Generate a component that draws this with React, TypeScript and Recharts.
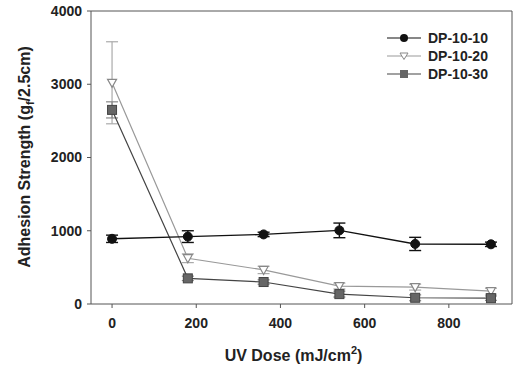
import React from 'react';
import { LineChart, Line, XAxis, YAxis, ErrorBar, ReferenceLine } from 'recharts';

// UV dose (mJ/cm2)
const doses = [0, 180, 360, 540, 720, 900];

const dp1010 = [890, 920, 950, 1005, 820, 815];
const dp1010Err = [50, 80, 30, 100, 90, 30];
const dp1020 = [3020, 625, 465, 245, 230, 175];
const dp1020Err = [560, 60, 50, 40, 40, 40];
const dp1030 = [2650, 350, 300, 135, 85, 80];
const dp1030Err = [110, 30, 30, 40, 40, 30];

const xTicks = [0, 200, 400, 600, 800];
const yTicks = [0, 1000, 2000, 3000, 4000];

const data = doses.map((d, i) => ({
  dose: d,
  a: dp1010[i], aErr: dp1010Err[i],
  b: dp1020[i], bErr: dp1020Err[i],
  c: dp1030[i], cErr: dp1030Err[i],
}));

const FONT = 'Liberation Sans, Arial, sans-serif';

const Circle = (p: any) => <circle key={p.index} cx={p.cx} cy={p.cy} r={4.5} fill="#111" stroke="#111" />;
const Tri = (p: any) => (
  <path key={p.index}
    d={`M${p.cx - 4.5},${p.cy - 3.5} L${p.cx + 4.5},${p.cy - 3.5} L${p.cx},${p.cy + 4.5} Z`}
    fill="#fff" stroke="#888" strokeWidth={1.2} />
);
const Sq = (p: any) => <rect key={p.index} x={p.cx - 4.5} y={p.cy - 4.5} width={9} height={9} fill="#666" stroke="#444" />;

const legendRows = [
  { name: 'DP-10-10', color: '#111', mark: 'c' },
  { name: 'DP-10-20', color: '#999', mark: 't' },
  { name: 'DP-10-30', color: '#444', mark: 's' },
];

const LegendBox = () => (
  <svg width={130} height={60} style={{ position: 'absolute', left: 385, top: 28 }}>
    {legendRows.map((r, i) => {
      const y = 10 + i * 18;
      return (
        <g key={r.name}>
          <line x1={2} x2={36} y1={y} y2={y} stroke={r.color} strokeWidth={1.2} />
          {r.mark === 'c' && <circle cx={19} cy={y} r={4} fill="#111" />}
          {r.mark === 't' && <path d={`M${15},${y - 3} L${23},${y - 3} L${19},${y + 3.5} Z`} fill="#fff" stroke="#888" />}
          {r.mark === 's' && <rect x={15} y={y - 4} width={8} height={8} fill="#666" />}
          <text x={43} y={y + 5} fontFamily={FONT} fontWeight="bold" fontSize={14} fill="#222">{r.name}</text>
        </g>
      );
    })}
  </svg>
);

export default function App() {
  return (
    <div style={{ position: 'absolute', left: 0, top: 0, width: 514, height: 372, background: '#fff' }}>
      <LineChart width={514} height={372} data={data}
        margin={{ top: 11, right: 2, bottom: 0, left: 0 }}>
        <XAxis dataKey="dose" type="number" domain={[-50, 950]} ticks={xTicks}
          stroke="#555" tickSize={4} tickLine={{ stroke: '#555' }}
          tick={{ fill: '#222', fontFamily: FONT, fontWeight: 'bold', fontSize: 14, dy: 8 }}
          height={68}
          label={(props: any) => {
            const vb = props.viewBox;
            return (
              <text x={vb.x + vb.width / 2 - 8} y={361} textAnchor="middle" fontFamily={FONT}
                fontWeight="bold" fontSize={16} fill="#222">
                UV Dose (mJ/cm<tspan dy={-7} fontSize={11}>2</tspan><tspan dy={7}>)</tspan>
              </text>
            );
          }} />
        <YAxis type="number" domain={[0, 4000]} ticks={yTicks} width={91}
          stroke="#555" tickSize={4}
          tick={{ fill: '#222', fontFamily: FONT, fontWeight: 'bold', fontSize: 14, dx: -3 }}
          label={() => (
            <text x={30} y={157} transform="rotate(-90 30 157)" textAnchor="middle" fontFamily={FONT}
              fontWeight="bold" fontSize={16} fill="#222">
              Adhesion Strength (g<tspan dy={4} fontSize={11}>f</tspan><tspan dy={-4}>/2.5cm)</tspan>
            </text>
          )} />
        <ReferenceLine y={4000} stroke="#555" />
        <ReferenceLine x={950} stroke="#555" />
        <Line dataKey="b" stroke="#999" strokeWidth={1.2} dot={Tri} isAnimationActive={false}>
          <ErrorBar dataKey="bErr" direction="y" width={6} stroke="#aaa" strokeWidth={1.2} />
        </Line>
        <Line dataKey="c" stroke="#444" strokeWidth={1.2} dot={Sq} isAnimationActive={false}>
          <ErrorBar dataKey="cErr" direction="y" width={6} stroke="#888" strokeWidth={1.2} />
        </Line>
        <Line dataKey="a" stroke="#111" strokeWidth={1.4} dot={Circle} isAnimationActive={false}>
          <ErrorBar dataKey="aErr" direction="y" width={6} stroke="#111" strokeWidth={1.4} />
        </Line>
      </LineChart>
      <LegendBox />
    </div>
  );
}
